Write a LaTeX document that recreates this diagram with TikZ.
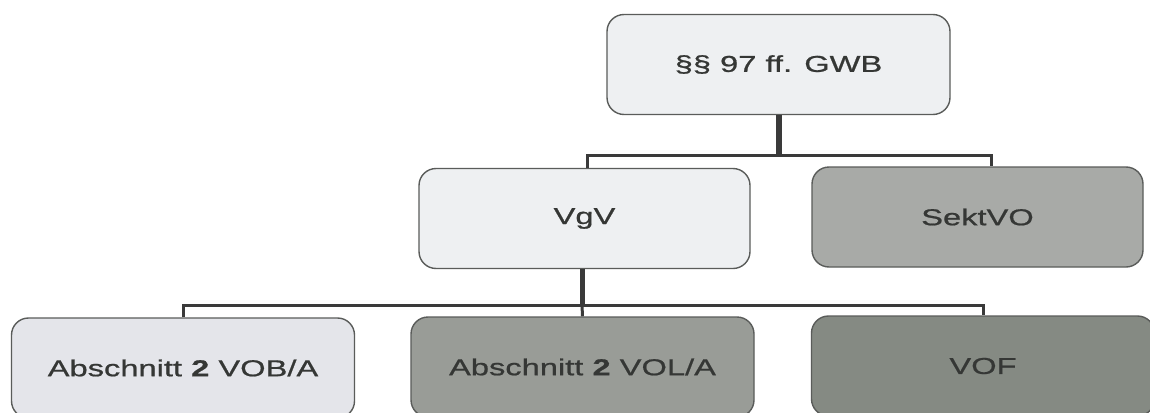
\documentclass[tikz,border=0pt]{standalone}
\usepackage{fontspec}
\newfontfamily\arialx{Liberation Sans}[FakeStretch=1.42,FakeBold=0.8]
\definecolor{txt}{HTML}{353735}
\definecolor{edge}{HTML}{5A5C5A}
\definecolor{wire}{HTML}{3A3A3A}
\definecolor{light}{HTML}{EEF0F2}
\definecolor{lightb}{HTML}{E4E5EA}
\definecolor{midg}{HTML}{A8AAA7}
\definecolor{darkg}{HTML}{999C97}
\definecolor{darkerg}{HTML}{858A83}
\tikzset{
  box/.style={draw=edge, line width=1.4pt, rounded corners=17pt, minimum height=100pt,
    minimum width=343pt, inner sep=0pt, text=txt, font=\arialx\fontsize{23}{27}\selectfont},
  heavy/.style={draw=wire, line width=6pt},
  light wire/.style={draw=wire, line width=3pt},
}
\begin{document}
\begin{tikzpicture}[x=1pt,y=-1pt]
\useasboundingbox (0,0) rectangle (1150,412);
\clip (0,0) rectangle (1150,412);
\fill[white] (0,0) rectangle (1150,412);
% nodes
\node[box, fill=light]  (top)  at (778.5,64.5) {§§ 97 ff. GWB};
\node[box, fill=light, minimum width=331pt]  (vgv)  at (584.5,218.5) {VgV};
\node[box, fill=midg, minimum width=331pt]   (sekt) at (977.5,217) {SektVO};
\node[box, fill=lightb] (b1) at (183,368) {Abschnitt \textbf{2} VOB/A};
\node[box, fill=darkg]  (b2) at (582.5,367) {Abschnitt \textbf{2} VOL/A};
\node[box, fill=darkerg] (b3) at (983,366) {VOF};
% connectors
\draw[heavy] (top.south) -- ++(0,40) coordinate (j1);
\draw[light wire] ([xshift=2.5pt]vgv.north) |- (j1) -| ([xshift=13.5pt]sekt.north);
\draw[heavy, line width=5pt] ([xshift=-2.5pt]vgv.south) -- ++(0,36) coordinate (j2);
\draw[light wire] (b1.north) |- (j2) -| (b3.north);
\draw[light wire] (j2) -- (b2.north);
\end{tikzpicture}
\end{document}
